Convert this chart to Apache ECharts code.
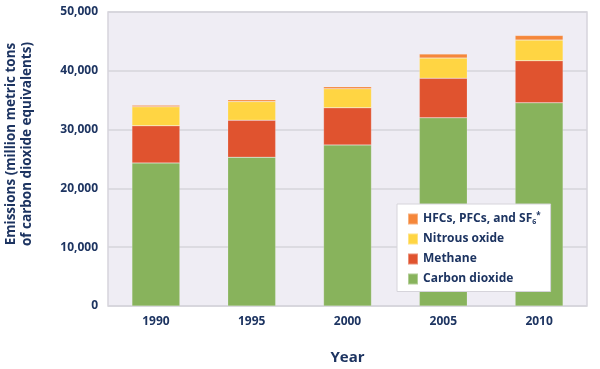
<!DOCTYPE html>
<html><head><meta charset="utf-8">
<script src="https://cdn.jsdelivr.net/npm/echarts@6/dist/echarts.min.js"></script>
<style>html,body{margin:0;padding:0;background:#fff}#c{width:600px;height:369px}</style>
</head><body><div id="c"></div>
<script>
const years = ['1990','1995','2000','2005','2010'];
const carbonDioxide = [24340, 25310, 27400, 32000, 34550];
const methane = [6300, 6300, 6300, 6750, 7150];
const nitrousOxide = [3230, 3160, 3240, 3410, 3520];
const fluorinated = [290, 290, 340, 680, 790];
const yTicks = [0, 10000, 20000, 30000, 40000, 50000];
const yTitle = 'Emissions (million metric tons\nof carbon dioxide equivalents)';

const navy = '#1d3461';
const font = 'Open Sans';
const chart = echarts.init(document.getElementById('c'));
function s(name, data, color){
  return {name, type:'bar', stack:'t', data, barWidth:'50%',
    itemStyle:{color, borderColor:'rgba(255,255,255,0.35)', borderWidth:0.5}};
}
chart.setOption({
  animation:false,
  textStyle:{fontFamily:font},
  grid:{left:108, top:12, width:479, height:294, show:true, backgroundColor:'#efedf4', borderColor:'#d6d4db', borderWidth:1.5,
    outerBoundsMode:'none', containLabel:false},
  graphic:[{type:'text', x:19, y:144, rotation:Math.PI/2,
    style:{text:yTitle, fill:navy, font:'bold 13.5px "Open Sans"', lineHeight:16, textAlign:'center', textVerticalAlign:'middle'}}],
  legend:{
    orient:'vertical', left:397, top:204, width:154,
    backgroundColor:'#fff', borderColor:'#d6d4db', borderWidth:1,
    padding:[8,10,6,10], itemWidth:10, itemHeight:11, itemGap:7,
    icon:'rect',
    data:['HFCs, PFCs, and SF6*','Nitrous oxide','Methane','Carbon dioxide'],
    formatter:function(n){ return n==='HFCs, PFCs, and SF6*' ? 'HFCs, PFCs, and SF{sub|6}{sup|*}' : n; },
    textStyle:{color:navy, fontWeight:'bold', fontSize:12, fontFamily:font,
      rich:{sub:{fontSize:7, fontWeight:'bold', color:navy, padding:[6,0,0,0]}, sup:{fontSize:8, fontWeight:'bold', color:navy, padding:[0,0,6,0]}}}
  },
  xAxis:{type:'category', data:years, name:'Year', nameLocation:'middle', nameGap:44,
    nameTextStyle:{color:navy, fontWeight:'bold', fontSize:15, fontFamily:font},
    axisLine:{show:false}, axisTick:{show:false},
    axisLabel:{color:navy, fontWeight:'bold', fontSize:12, margin:10, fontFamily:font}},
  yAxis:{type:'value', min:yTicks[0], max:yTicks[yTicks.length-1], interval:10000,
    axisLine:{show:false}, axisTick:{show:false},
    splitLine:{lineStyle:{color:'#d6d4db', width:1.5}},
    axisLabel:{color:navy, fontWeight:'bold', fontSize:12, margin:10, fontFamily:font,
      formatter:v=>v.toLocaleString('en-US')}},
  series:[
    s('Carbon dioxide', carbonDioxide, '#88b35c'),
    s('Methane', methane, '#e0532f'),
    s('Nitrous oxide', nitrousOxide, '#ffd543'),
    s('HFCs, PFCs, and SF6*', fluorinated, '#f5873a')
  ]
});
</script></body></html>
